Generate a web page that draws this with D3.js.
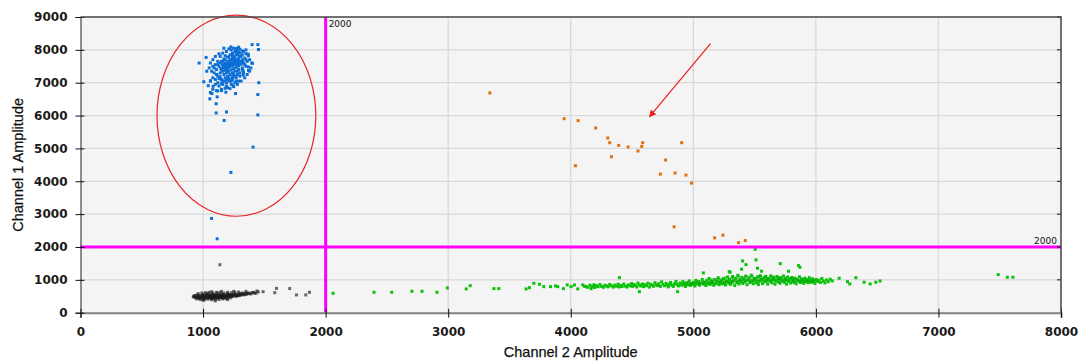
<!DOCTYPE html>
<html>
<head>
<meta charset="utf-8">
<script src="https://cdn.jsdelivr.net/npm/d3@7"></script>
<style>
  body { margin: 0; background: #fff; }
</style>
</head>
<body>
<div id="chart"></div>
<script>
// Ticks and thresholds
const xTicks = [0, 1000, 2000, 3000, 4000, 5000, 6000, 7000, 8000];
const yTicks = [0, 1000, 2000, 3000, 4000, 5000, 6000, 7000, 8000, 9000];
const thresholdCh2 = 2000;
const thresholdCh1 = 2000;

// Ch1+ Ch2- droplets (blue), [ch2, ch1]
const bluePoints = [
  [1150,7400],[1170,7450],[1190,7500],[1210,7550],[1230,7600],[1250,7650],[1270,7700],[1290,7750],[1310,7800],
  [1160,7550],[1180,7600],[1200,7650],[1220,7700],[1240,7750],[1260,7800],[1280,7850],[1300,7900],
  [1140,7300],[1160,7350],[1180,7380],[1200,7420],[1220,7480],[1240,7520],[1260,7560],[1280,7600],[1300,7650],[1320,7700],[1340,7750],
  [1120,7200],[1140,7180],[1170,7250],[1190,7300],[1210,7340],[1230,7390],[1250,7430],[1270,7470],[1290,7510],[1310,7560],[1330,7600],
  [1100,7100],[1120,7000],[1150,7100],[1180,7150],[1200,7200],[1220,7250],[1240,7300],[1260,7350],[1290,7400],[1320,7450],[1350,7500],
  [1180,7700],[1200,7780],[1220,7850],[1240,7900],[1260,7950],[1280,7980],[1230,8000],[1250,8050],[1300,8020],[1330,7950],[1350,7880],[1370,7820],
  [1110,7400],[1130,7500],[1150,7650],[1170,7720],[1090,7300],[1080,7150],[1060,7050],[1100,6950],[1130,6900],[1160,6950],[1190,7000],
  [1210,7050],[1240,7100],[1270,7150],[1300,7200],[1330,7300],[1200,6850],[1230,6950],[1260,7000],[1290,7050],[1150,6800],[1120,6750],
  [1080,6800],[1060,6700],[1210,7620],[1235,7680],[1255,7720],[1195,7560],[1175,7520],[1265,7630],[1285,7680],[1245,7580],[1225,7530],
  [1205,7460],[1275,7540],[1295,7580],[1315,7620],[1185,7420],[1165,7480],[1145,7440],
  [1060,7600],[1080,7700],[1100,7550],[1120,7650],[1140,7800],[1100,7800],[1130,7880],[1160,7900],[1190,7950],[1170,8050],
  [1090,7450],[1070,7350],[1110,7250],[1130,7120],[1160,7050],[1190,6900],[1220,6820],[1250,6880],[1280,6950],[1310,7050],
  [1340,7150],[1360,7250],[1380,7350],[1390,7450],[1360,7650],[1380,7700],[1340,7550],[1320,7400],[1300,7300],[1280,7250],
  [1260,7200],[1240,7180],[1210,7150],[1190,7100],[1170,7050],[1150,6980],[1230,7050],[1270,7050],[1200,7350],[1250,7250],
  [1210,7780],[1270,7880],[1290,7920],[1320,7850],[1300,7800],[1240,7830],[1180,7820],[1160,7650],[1140,7600],[1120,7550],
  [1080,7500],[1050,7450],[1030,7350],[1210,8030],[1290,8080],[1350,8000],[1320,7650],[1350,7700],[1370,7480],[1280,7350],
  [968,7600],[1025,7770],[1400,8160],[1447,8160],[1452,8010],[1398,7600],[1455,7000],[1447,6640],[1447,6020],
  [1107,6360],[1107,6080],[1191,6110],[1172,5850],[1408,5040],[1227,4270],[1069,2870],[1115,2250],
  [1227,8090],[1273,8040],[1319,7970],[1368,7870],[1403,7590],[1371,7370],[1327,7370],[1327,7230],[1265,6670],
  [1245,6910],[1213,7120],[1180,6830],[1186,6710],[1151,6760],[1110,6760],[1072,6670],[1055,6510],[1115,6570],
  [1006,7030],[1042,6910],[1061,7060],[1082,6890]
];

// Ch1+ Ch2+ droplets (orange)
const orangePoints = [
  [3340,6690],[3946,5905],[4060,5845],[4204,5622],[4302,5317],[4318,5174],[4391,5092],[4468,5043],
  [4587,5174],[4579,5061],[4549,4921],[4905,5174],[4332,4747],[4038,4473],[4774,4646],[4731,4219],
  [4851,4250],[4940,4189],[4986,3945],[4843,2613],[5174,2277],[5242,2360],[5369,2134],[5424,2195]
];

// Double negative droplets (grey)
const greyPoints = [
  [920,480],[930,520],[940,450],[950,500],[960,470],[960,540],[970,430],[980,490],[990,520],[990,460],
  [1000,500],[1010,440],[1010,560],[1020,480],[1030,520],[1040,460],[1040,590],[1050,500],[1060,440],
  [1060,540],[1070,480],[1080,520],[1080,420],[1090,560],[1100,470],[1100,500],[1110,530],[1120,450],
  [1120,600],[1130,490],[1140,520],[1150,470],[1150,560],[1160,500],[1170,440],[1170,540],[1180,490],
  [1190,520],[1200,470],[1200,580],[1210,510],[1220,540],[1230,480],[1240,520],[1250,560],[1260,500],
  [1270,540],[1280,520],[1290,570],[1300,540],[1310,560],[1320,600],[1340,560],[1360,590],[1380,580],
  [1400,610],[1420,600],[1450,630],
  [1000,420],[1020,450],[1050,470],[1070,450],[1090,480],[1110,470],[1130,460],[1150,500],[1170,490],
  [1190,470],[1210,540],[1230,520],[1030,560],[1060,510],[1090,520],[1120,520],[1140,480],[1160,530],
  [925,500],[935,470],[945,530],[955,490],[965,455],[975,515],[985,480],[995,545],[1005,470],[1015,510],
  [1025,445],[1035,490],[1045,530],[1055,465],[1065,505],[1075,550],[1085,470],[1095,515],[1105,445],
  [1115,490],[1125,540],[1135,470],[1145,510],[1155,455],[1165,500],[1175,545],[1185,480],[1195,510],
  [1205,555],[1215,490],[1225,530],[1235,500],[1245,545],[1255,520],[1265,560],[1275,505],[1285,545],
  [1295,520],[1305,580],[1315,540],[1325,570],[1335,545],[1345,590],[1355,560],[1370,600],[1390,570],
  [1410,620],[1430,590],
  [950,420],[980,400],[1010,390],[1040,410],[1070,395],[1100,410],[1130,400],[1160,420],[1190,430],[1220,450],
  [960,580],[990,600],[1020,610],[1050,620],[1080,600],[1110,620],[1140,610],[1170,600],[1200,620],[1230,610],
  [1260,620],[1290,630],[1040,500],[1060,480],[1080,490],[1100,530],[1120,480],[1140,500],[1060,520],
  [1080,460],[1100,490],[1120,510],
  [1070,640],[1150,650],[1250,650],[1350,650],[1440,660],[1000,380],[1100,360],[1200,400],
  [1137,1460],[1490,640],[1585,610],[1599,740],[1707,735],[1762,540],[1838,540],[1868,620]
];

// Ch2+ droplets (green)
const greenSparse = [
  [2061,591],[2395,622],[2539,622],[2704,652],[2786,652],[2908,622],[2993,753],[3147,723],[3180,823],
  [3373,732],[3413,732],[3636,723],[3663,762],[3699,896],[3745,866],[3780,793],[3835,793],[3875,814],
  [3894,793],[3940,732],[3971,845],[4003,793],[4030,845],[4057,723],[4098,845],[4125,793],[4166,732],
  [4207,814],[4397,1067],[4560,640],[4872,640],[5082,1210],[5301,1231],[5505,1930],
  [5402,1576],[5430,1463],[5511,1607],[5524,1354],[5557,1262],[5709,1494],[5777,1262],[5858,1433],
  [5870,1384],[5394,1323],[5293,1250],
  [6190,1049],[6258,945],[6277,875],[6326,1067],[6394,927],[6443,875],[6489,927],[6524,966],
  [7488,1159],[7562,1079],[7608,1079]
];
const greenBand = [
  [4112,805],[4138,772],[4156,838],[4171,795],[4189,851],[4194,768],
  [4207,822],[4223,790],[4238,856],[4251,803],[4266,772],[4279,835],[4293,812],
  [4305,788],[4318,861],[4331,820],[4347,779],[4359,842],[4372,805],[4386,868],[4395,784],
  [4408,829],[4419,797],[4433,872],[4446,812],[4458,781],[4471,846],[4483,818],[4497,889],
  [4504,801],[4516,857],[4527,828],[4539,784],[4548,903],[4561,842],[4573,812],[4586,873],[4595,795],
  [4606,851],[4618,823],[4629,897],[4641,779],[4652,866],[4664,838],[4676,805],[4687,912],[4698,851],
  [4709,827],[4718,884],[4731,799],[4742,941],[4753,858],[4766,821],[4778,893],[4789,842],[4797,786],
  [4806,872],[4815,918],[4824,835],[4838,801],[4847,886],[4859,952],[4868,853],[4879,816],[4891,903],[4898,869],
  [4907,832],[4916,945],[4927,881],[4935,797],[4946,912],[4954,857],[4966,968],[4975,828],[4984,893],[4996,861],
  [5004,925],[5013,812],[5022,986],[5031,879],[5043,948],[5052,841],[5061,907],[5073,1012],[5084,868],[5092,934],
  [5103,826],[5111,987],[5120,901],[5129,1041],[5138,862],[5147,955],[5156,918],[5167,832],[5176,1009],[5185,884],[5194,961],
  [5202,1063],[5211,851],[5219,928],[5228,994],[5236,878],[5245,1037],[5253,912],[5262,842],[5271,968],[5279,1086],[5288,897],[5296,1019],
  [5304,862],[5312,944],[5321,1102],[5329,987],[5338,826],[5346,1052],[5355,919],[5363,1138],[5372,874],[5380,1001],[5389,957],[5397,1074],
  [5405,889],[5413,1031],[5422,946],[5430,1117],[5439,853],[5447,992],[5456,1068],[5464,918],[5473,1143],[5481,969],[5490,881],[5498,1044],
  [5506,1007],[5514,912],[5523,1089],[5531,855],[5540,961],[5548,1126],[5557,1023],[5565,884],[5574,1062],[5582,942],[5591,1108],[5599,989],
  [5607,871],[5615,1047],[5624,958],[5632,1121],[5641,912],[5649,1003],[5658,1079],[5666,866],[5675,986],[5683,1102],[5692,933],[5700,1041],
  [5709,897],[5718,1063],[5726,972],[5735,1118],[5744,924],[5752,1011],[5761,868],[5770,1087],[5778,953],[5787,1036],[5795,901],
  [5804,1072],[5813,987],[5822,921],[5830,1049],[5839,879],[5848,1011],[5857,962],[5866,1093],[5874,918],[5883,1027],[5892,971],
  [5901,893],[5910,1052],[5919,944],[5928,1008],[5937,912],[5946,1067],[5955,979],[5964,928],[5973,1031],[5982,956],[5991,891],
  [6003,1012],[6014,947],[6026,988],[6037,921],[6049,1041],[6061,962],[6074,907],[6088,995],[6101,942],[6117,1018],[6134,968]
];
const greenCore = [
  [4920,890],[4962,905],[4988,880],[5017,918],[5048,896],[5079,935],[5108,912],[5134,948],[5161,925],[5189,958],
  [5214,938],[5241,970],[5267,949],[5293,983],[5318,961],[5342,995],[5368,972],[5393,1004],[5418,983],[5443,1016],
  [5468,993],[5494,1021],[5519,998],[5544,1029],[5569,1004],[5594,1033],[5619,1009],[5644,1036],[5669,1012],[5694,1028],
  [5719,1003],[5744,1031],[5769,998],[5794,1019],[5819,994],[5844,1009],[5869,988],[5894,1002],[5919,979],[5944,994],
  [5969,971],[5994,984],
  [4940,842],[4977,858],[5011,871],[5046,853],[5082,889],[5117,872],[5151,905],[5186,887],[5221,918],[5255,901],
  [5289,932],[5324,913],[5358,945],[5392,926],[5427,957],[5461,938],[5495,966],[5530,946],[5564,972],[5598,951],
  [5633,975],[5667,955],[5701,978],[5736,957],[5770,974],[5804,952],[5839,969],[5873,947],[5908,963],[5942,941],[5976,957],
  [5153,1002],[5207,1031],[5262,1058],[5317,1071],[5371,1089],[5426,1096],[5480,1102],[5535,1094],[5590,1087],
  [5644,1079],[5699,1068],[5753,1061],[5808,1047]
];

// Annotations (data coordinates)
const circleNote = { cx: 1272, cy: 5995, rx: 648, ry: 3060 };
const arrowNote = { x1: 5140, y1: 8190, x2: 4643, y2: 5965 };

const W = 1080, H = 363;
const svg = d3.select('#chart').append('svg').attr('width', W).attr('height', H);

const x = d3.scaleLinear().domain([0, 8000]).range([80.5, 1061]);
const y = d3.scaleLinear().domain([0, 9000]).range([312.7, 17]);

// Plot background
svg.append('rect')
  .attr('x', x(0)).attr('y', y(9000))
  .attr('width', x(8000) - x(0)).attr('height', y(0) - y(9000))
  .attr('fill', '#f4f4f4');

// Grid
svg.append('g').selectAll('line').data(xTicks.slice(1, -1)).enter().append('line')
  .attr('x1', d => x(d)).attr('x2', d => x(d))
  .attr('y1', y(9000)).attr('y2', y(0))
  .attr('stroke', '#d9d9d9').attr('stroke-width', 1.3);
svg.append('g').selectAll('line').data(yTicks.slice(1, -1)).enter().append('line')
  .attr('x1', x(0)).attr('x2', x(8000))
  .attr('y1', d => y(d)).attr('y2', d => y(d))
  .attr('stroke', '#d9d9d9').attr('stroke-width', 1.3);

// Points
function drawPoints(data, fill, opacity, size) {
  svg.append('g').selectAll('rect').data(data).enter().append('rect')
    .attr('x', d => x(d[0]) - size / 2)
    .attr('y', d => y(d[1]) - size / 2)
    .attr('width', size).attr('height', size)
    .attr('fill', fill).attr('fill-opacity', opacity);
}

drawPoints(greyPoints, '#1c1c1c', 0.65, 3);
drawPoints(greenSparse.concat(greenBand), '#0ac20a', 1, 3);
drawPoints(greenCore, '#03ab03', 0.6, 3);
drawPoints(bluePoints, '#0b6fd6', 1, 3);
drawPoints(orangePoints, '#e2700c', 1, 3);

// Threshold lines
svg.append('line')
  .attr('x1', x(thresholdCh2)).attr('x2', x(thresholdCh2))
  .attr('y1', y(9000)).attr('y2', y(0))
  .attr('stroke', '#ff00ff').attr('stroke-width', 3);
svg.append('line')
  .attr('x1', x(0)).attr('x2', x(8000))
  .attr('y1', y(thresholdCh1)).attr('y2', y(thresholdCh1))
  .attr('stroke', '#ff00ff').attr('stroke-width', 3);
svg.append('text')
  .attr('x', x(thresholdCh2) + 3).attr('y', y(9000) + 10)
  .style('font', '9px "DejaVu Sans", sans-serif').attr('fill', '#111')
  .text(thresholdCh2);
svg.append('text')
  .attr('x', x(8000) - 4).attr('y', y(thresholdCh1) - 3)
  .attr('text-anchor', 'end')
  .style('font', '9px "DejaVu Sans", sans-serif').attr('fill', '#111')
  .text(thresholdCh1);

// Red annotations
svg.append('ellipse')
  .attr('cx', x(circleNote.cx)).attr('cy', y(circleNote.cy))
  .attr('rx', x(circleNote.rx) - x(0)).attr('ry', y(0) - y(circleNote.ry))
  .attr('fill', 'none').attr('stroke', '#e8262a').attr('stroke-width', 1.2);

svg.append('defs').append('marker')
  .attr('id', 'arrow').attr('viewBox', '0 0 10 10')
  .attr('refX', 9).attr('refY', 5)
  .attr('markerWidth', 7).attr('markerHeight', 7)
  .attr('markerUnits', 'userSpaceOnUse')
  .attr('orient', 'auto')
  .append('path').attr('d', 'M0,0 L10,5 L0,10 z').attr('fill', '#ee1c1c');
svg.append('line')
  .attr('x1', x(arrowNote.x1)).attr('y1', y(arrowNote.y1))
  .attr('x2', x(arrowNote.x2)).attr('y2', y(arrowNote.y2))
  .attr('stroke', '#ee1c1c').attr('stroke-width', 1.2)
  .attr('marker-end', 'url(#arrow)');

// Axes
const xAxis = svg.append('g').attr('transform', `translate(0,${y(0)})`)
  .call(d3.axisBottom(x).tickValues(xTicks).tickSize(5).tickPadding(10).tickFormat(d3.format('d')));
xAxis.select('.domain').attr('stroke', '#808080').attr('stroke-width', 2);
xAxis.selectAll('.tick line').attr('y1', -4).attr('stroke', '#111');

const yAxis = svg.append('g').attr('transform', `translate(${x(0)},0)`)
  .call(d3.axisLeft(y).tickValues(yTicks).tickSize(5).tickPadding(8).tickFormat(d3.format('d')));
yAxis.select('.domain').attr('stroke', '#222');
yAxis.selectAll('.tick line').attr('x1', 4).attr('stroke', '#111');

// Right ticks pointing inward
svg.append('g').selectAll('line').data(yTicks.slice(1)).enter().append('line')
  .attr('x1', x(8000) - 4).attr('x2', x(8000))
  .attr('y1', d => y(d)).attr('y2', d => y(d))
  .attr('stroke', '#111');

[xAxis, yAxis].forEach(g => g.selectAll('.tick text')
  .style('font', 'bold 12px "DejaVu Sans", sans-serif').attr('fill', '#1a1a1a'));

// Top and right border
svg.append('path')
  .attr('d', `M${x(0)},${y(9000)} H${x(8000)} V${y(0)}`)
  .attr('fill', 'none').attr('stroke', '#444').attr('stroke-width', 1.5);

// Axis titles
svg.append('text')
  .attr('x', (x(0) + x(8000)) / 2).attr('y', 357)
  .attr('text-anchor', 'middle')
  .style('font', '14.5px "Liberation Sans", Arial, sans-serif')
  .attr('fill', '#111').attr('stroke', '#111').attr('stroke-width', 0.25)
  .text('Channel 2 Amplitude');
svg.append('text')
  .attr('transform', `translate(23,${(y(0) + y(9000)) / 2}) rotate(-90)`)
  .attr('text-anchor', 'middle')
  .style('font', '14.5px "Liberation Sans", Arial, sans-serif')
  .attr('fill', '#111').attr('stroke', '#111').attr('stroke-width', 0.25)
  .text('Channel 1 Amplitude');
</script>
</body>
</html>
